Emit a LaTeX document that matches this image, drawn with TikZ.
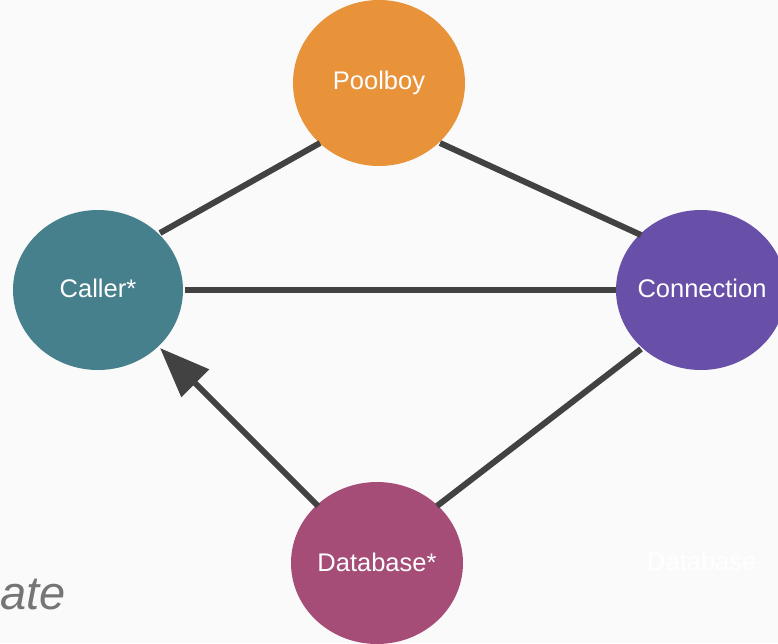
\documentclass[tikz,border=0pt]{standalone}
\usepackage{fontspec}
\setmainfont{Liberation Sans}
\usetikzlibrary{arrows.meta}
\definecolor{bgc}{HTML}{FAFAFA}
\definecolor{edgec}{HTML}{424242}
\definecolor{poolc}{HTML}{E8923A}
\definecolor{callc}{HTML}{46808C}
\definecolor{connc}{HTML}{684FA8}
\definecolor{dbc}{HTML}{A54D77}
\definecolor{grayt}{HTML}{757575}
\begin{document}
\begin{tikzpicture}[x=1pt,y=-1pt,
  label text/.style={text=white, font=\fontsize{25.5}{30}\selectfont},
  link/.style={draw=edgec, line width=6pt}]
  % background
  \fill[bgc] (0,0) rectangle (778,643);
  \useasboundingbox (0,0) rectangle (778,643);
  \begin{scope}
    \clip (0,0) rectangle (778,643);
    % processes
    \fill[poolc] (379,83) ellipse [x radius=86, y radius=83];
    \fill[callc] (98,290) ellipse [x radius=85, y radius=80];
    \fill[connc] (701,290) ellipse [x radius=85, y radius=80];
    \fill[dbc] (377,563) ellipse [x radius=86, y radius=81];
    \node[label text] (pool) at (379,83) {Poolboy};
    \node[label text] (call) at (98,288) {Caller*};
    \node[label text] (conn) at (702,288) {Connection};
    \node[label text] (db) at (377,562) {Database*};
    % anchor points on the ellipse rims
    \coordinate (poolL) at (320,143);
    \coordinate (poolR) at (440,143);
    \coordinate (callT) at (160,233);
    \coordinate (callR) at (185,290);
    \coordinate (callB) at (160,348);
    \coordinate (connT) at (641,235);
    \coordinate (connL) at (616,290);
    \coordinate (connB) at (641,349);
    \coordinate (dbL) at (318,506);
    \coordinate (dbR) at (437,506);
    % links
    \draw[link] (poolL) -- (callT);
    \draw[link] (poolR) -- (connT);
    \draw[link] (callR) -- (connL);
    \draw[link] (connB) -- (dbR);
    \draw[link, -{Triangle[length=50pt, width=38pt]}] (dbL) -- (callB);
    % labels outside the graph
    \node[anchor=base east, text=grayt, font=\fontsize{47}{52}\selectfont\itshape, inner sep=0pt] (cut) at (66,609) {ate};
    \node[anchor=base west, label text, inner sep=0pt] (ghost) at (647,570) {Database};
  \end{scope}
\end{tikzpicture}
\end{document}
